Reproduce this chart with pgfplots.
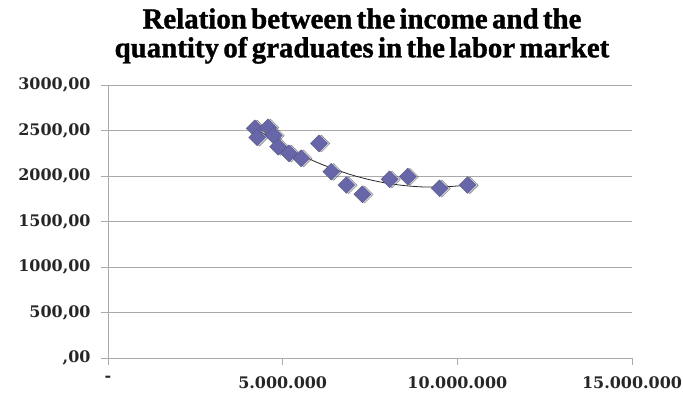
\documentclass[border=0pt]{standalone}
\usepackage{fontspec}
\setmainfont{DejaVu Serif}
\newfontfamily\titlefont[FakeBold=1.2, WordSpace=0.6]{Liberation Serif}
\newfontfamily\tickfont{DejaVu Serif}
\usepackage{pgfplots}
\pgfplotsset{compat=1.18}
\definecolor{mk}{RGB}{102,102,168}
\definecolor{gridc}{RGB}{170,170,170}
\pgfplotstableread{
x y
4200000 2524
4270000 2425
4580000 2535
4740000 2445
4870000 2322
5180000 2249
5530000 2195
6040000 2359
6390000 2047
6820000 1901
7280000 1799
8060000 1964
8580000 1993
9490000 1865
10290000 1901
}\datatable
\pgfplotstableread{
x y
4200000 2520
4500000 2455
5000000 2335
5500000 2235
6000000 2147
6500000 2072
7000000 2009
7500000 1958
8000000 1920
8500000 1894
9000000 1880
9500000 1879
10000000 1890
10300000 1903
}\trendtable
\begin{document}
\begin{tikzpicture}[x=1bp,y=1bp]
\useasboundingbox (0,0) rectangle (683,398);
\node[align=center, inner sep=0pt, font=\titlefont\bfseries\fontsize{29}{29}\selectfont] at (362,362) {Relation between the income and the\\quantity of graduates in the labor market};
\begin{axis}[
  at={(108bp,40bp)}, anchor=south west,
  width=524bp, height=273bp, scale only axis,
  xmin=0, xmax=15000000, ymin=0, ymax=3000,
  axis x line*=bottom, axis y line*=left,
  xtick={0,5000000,10000000,15000000},
  xticklabels={-,5.000.000,10.000.000,15.000.000},
  ytick={0,500,1000,1500,2000,2500,3000},
  yticklabels={{,00},{500,00},{1000,00},{1500,00},{2000,00},{2500,00},{3000,00}},
  scaled x ticks=false, scaled y ticks=false,
  ymajorgrids, grid style={gridc, line width=1bp},
  axis line style={gridc, line width=1bp},
  tick style={gridc, line width=1bp},
  tick align=outside, major tick length=7bp,
  ticklabel style={font=\tickfont\bfseries\fontsize{16}{16}\selectfont, text=black!85},
  xticklabel style={yshift=-8bp},
  yticklabel style={anchor=east, xshift=-7bp},
  clip=false,
]
\addplot[only marks, mark=square*, mark size=6bp,
  mark options={rotate=45, fill=black!40, draw=none, opacity=0.45, xshift=1.5bp, yshift=-1.8bp}]
  table[x=x,y=y] {\datatable};
\addplot[only marks, mark=square*, mark size=6bp,
  mark options={rotate=45, fill=mk, draw=mk!80!black, line width=0.3bp}]
  table[x=x,y=y] {\datatable};
\addplot[black!85, line width=0.8bp, smooth, no marks] table[x=x,y=y] {\trendtable};
\end{axis}
\end{tikzpicture}
\end{document}
